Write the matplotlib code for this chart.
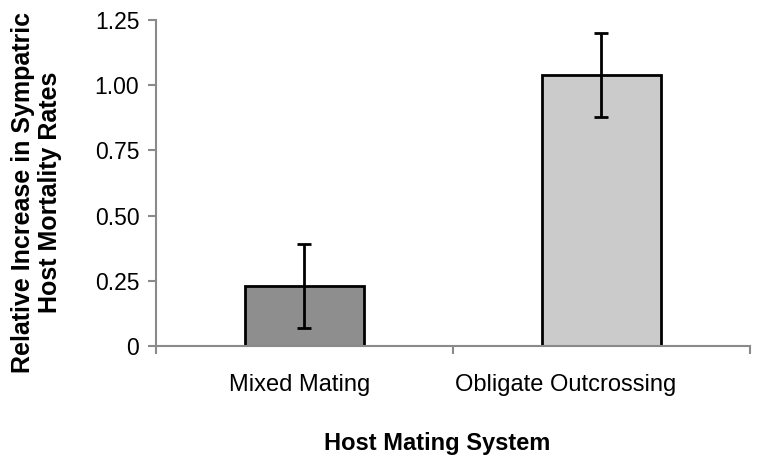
import numpy as np
import matplotlib.pyplot as plt
from matplotlib.transforms import ScaledTranslation

plt.rcParams['font.family'] = ['Liberation Sans', 'DejaVu Sans']

categories = ["Mixed Mating", "Obligate Outcrossing"]
values = [0.23, 1.04]
errors = [0.16, 0.16]
colors = ["#8e8e8e", "#cbcbcb"]

fig = plt.figure(figsize=(7.62, 4.71), dpi=100)
ax = fig.add_axes([0.2047, 0.2654, 0.7795, 0.6921])

x = np.arange(len(categories))
ax.bar(x, values, width=0.40, color=colors, edgecolor="black", linewidth=2, zorder=2)
ax.errorbar(x, values, yerr=errors, fmt="none", ecolor="black", elinewidth=2,
            capsize=5, capthick=2, zorder=3)

ax.set_xlim(-0.5, 1.5)
ax.set_ylim(0, 1.25)
ax.set_yticks([0, 0.25, 0.5, 0.75, 1.0, 1.25])
ax.set_yticklabels(["0", "0.25", "0.50", "0.75", "1.00", "1.25"], fontsize=16.5)
ax.set_xticks(x)
ax.set_xticklabels(categories, fontsize=17)
ax.set_xticks([-0.5, 0.5, 1.5], minor=True)
ax.tick_params(axis="x", which="major", length=0, pad=20)
ax.tick_params(axis="x", which="minor", length=6, color="#8a8a8a", width=1.5, direction="out")
ax.tick_params(axis="y", length=6, color="#8a8a8a", width=1.5, direction="out", pad=6)

# labels sit a little left of the bar centres in the original
for lab, dx in zip(ax.get_xticklabels(), [-5, -36]):
    lab.set_transform(lab.get_transform() + ScaledTranslation(dx / 100, 0, fig.dpi_scale_trans))

for side in ["top", "right"]:
    ax.spines[side].set_visible(False)
for side in ["left", "bottom"]:
    ax.spines[side].set_color("#8a8a8a")
    ax.spines[side].set_linewidth(1.5)

fig.text(0.048, 0.592, "Relative Increase in Sympatric\nHost Mortality Rates",
         rotation=90, ha="center", va="center", fontsize=18, fontweight="bold",
         linespacing=1.2)
fig.text(0.574, 0.059, "Host Mating System", ha="center", va="center",
         fontsize=17, fontweight="bold")

fig.savefig("out.png", dpi=100)
